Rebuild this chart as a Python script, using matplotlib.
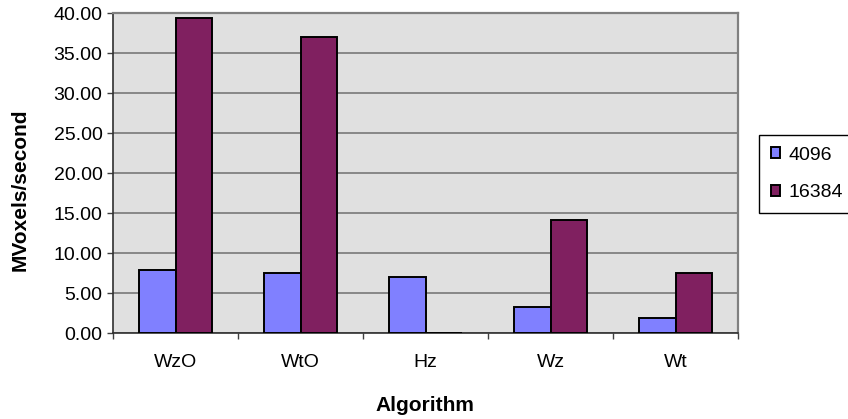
import matplotlib.pyplot as plt
from matplotlib.ticker import FixedLocator, FormatStrFormatter
import numpy as np

plt.rcParams['font.family'] = ['Liberation Sans', 'DejaVu Sans']

# throughput per algorithm, two volume sizes
algorithms = ['WzO', 'WtO', 'Hz', 'Wz', 'Wt']
series_names = ['4096', '16384']
vals_4096 = [7.95, 7.49, 7.03, 3.34, 1.96]
vals_16384 = [39.45, 37.00, 0.0, 14.23, 7.49]

blue = '#8080FF'
purple = '#802060'
grid_gray = '#808080'

W, H = 848, 419
fig = plt.figure(figsize=(W / 100, H / 100), dpi=100)
fig.patch.set_facecolor('white')

# axes box in pixel coordinates
left, right, top, bottom = 113, 738, 13.5, 333.3
ax = fig.add_axes([left / W, 1 - bottom / H, (right - left) / W, (bottom - top) / H])
ax.set_facecolor('#E0E0E0')

x = np.arange(len(algorithms))
w = 0.29
ax.bar(x - w / 2, vals_4096, w, color=blue, edgecolor='black', linewidth=1.4,
       label=series_names[0], zorder=3)
ax.bar(x + w / 2, vals_16384, w, color=purple, edgecolor='black', linewidth=1.4,
       label=series_names[1], zorder=3)

ax.set_xlim(-0.5, len(algorithms) - 0.5)
ax.set_ylim(0, 40)
ax.set_yticks(np.arange(0, 40.1, 5))
ax.yaxis.set_major_formatter(FormatStrFormatter('%.2f'))
ax.yaxis.grid(True, color=grid_gray, linewidth=1.3, zorder=1)
ax.set_axisbelow(True)

ax.set_xticks(x)
ax.set_xticklabels(algorithms)
ax.xaxis.set_minor_locator(FixedLocator(np.arange(-0.5, len(algorithms), 1.0)))
ax.tick_params(axis='x', which='major', length=0, pad=15, labelsize=14)
ax.tick_params(axis='x', which='minor', length=4.5, width=1, color='#404040')
ax.tick_params(axis='y', length=4.5, width=1, color='#404040', pad=3, labelsize=14)

for side in ('top', 'right'):
    ax.spines[side].set_color(grid_gray)
    ax.spines[side].set_linewidth(1.6)
for side in ('left', 'bottom'):
    ax.spines[side].set_color('#303030')
    ax.spines[side].set_linewidth(1.2)

fig.text(425 / W, 1 - 405 / H, 'Algorithm', ha='center', va='center',
         fontsize=15, fontweight='bold')
fig.text(20 / W, 1 - 190 / H, 'MVoxels/second', ha='center', va='center',
         rotation=90, fontsize=15, fontweight='bold')

leg = ax.legend(loc='upper left', bbox_to_anchor=(759 / W, 1 - 135 / H),
                bbox_transform=fig.transFigure, borderaxespad=0,
                fancybox=False, edgecolor='black', framealpha=1,
                fontsize=14, handlelength=0.5, handleheight=0.5,
                handletextpad=0.4, labelspacing=1.05, borderpad=0.6)
leg.get_frame().set_linewidth(1.0)

fig.savefig('out.png', dpi=100)
